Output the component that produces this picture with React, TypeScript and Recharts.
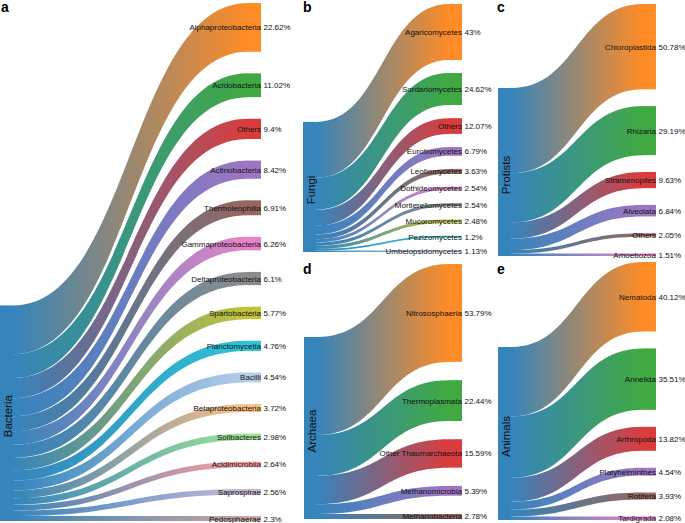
import React from 'react';
import { Sankey } from 'recharts';

const SOURCE_COLOR = '#1f77b4';
const PALETTE = [
  '#ff7f0e', '#2ca02c', '#d62728', '#9467bd', '#8c564b', '#e377c2', '#7f7f7f',
  '#bcbd22', '#17becf', '#aec7e8', '#ffbb78', '#98df8a', '#ff9896', '#c5b0d5', '#c49c94',
];

const bacteriaNames = [
  'Alphaproteobacteria', 'Acidobacteria', 'Others', 'Actinobacteria', 'Thermoleophilia',
  'Gammaproteobacteria', 'Deltaproteobacteria', 'Spartobacteria', 'Planctomycetia', 'Bacilli',
  'Betaproteobacteria', 'Solibacteres', 'Acidimicrobiia', 'Saprospirae', 'Pedosphaerae',
];
const bacteriaValues = [22.62, 11.02, 9.4, 8.42, 6.91, 6.26, 6.1, 5.77, 4.76, 4.54, 3.72, 2.98, 2.64, 2.56, 2.3];

const fungiNames = [
  'Agaricomycetes', 'Sordariomycetes', 'Others', 'Eurotiomycetes', 'Leotiomycetes',
  'Dothideomycetes', 'Mortierellomycetes', 'Mucoromycetes', 'Pezizomycetes', 'Umbelopsidomycetes',
];
const fungiValues = [43, 24.62, 12.07, 6.79, 3.63, 2.54, 2.54, 2.48, 1.2, 1.13];

const protistNames = ['Chloroplastida', 'Rhizaria', 'Stramenopiles', 'Alveolata', 'Others', 'Amoebozoa'];
const protistValues = [50.78, 29.19, 9.63, 6.84, 2.05, 1.51];

const archaeaNames = ['Nitrososphaeria', 'Thermoplasmata', 'Other Thaumarchaeota', 'Methanomicrobia', 'Methanobacteria'];
const archaeaValues = [53.79, 22.44, 15.59, 5.39, 2.78];

const animalNames = ['Nematoda', 'Annelida', 'Arthropoda', 'Platyhelminthes', 'Rotifera', 'Tardigrada'];
const animalValues = [40.12, 35.51, 13.82, 4.54, 3.93, 2.08];

const FONT = '"Liberation Sans", Arial, Helvetica, sans-serif';
const OPACITY = 0.9;

type PanelCfg = {
  key: string;
  letter: string;
  source: string;
  names: string[];
  values: number[];
  left: number;
  top: number;
  innerW: number;
  innerH: number;
  padding: number;
  letterX: number;
  letterY: number;
};

const panels: PanelCfg[] = [
  { key: 'a', letter: 'a', source: 'Bacteria', names: bacteriaNames, values: bacteriaValues, left: 0, top: 3, innerW: 261, innerH: 518, padding: 21.6, letterX: 1, letterY: 12 },
  { key: 'b', letter: 'b', source: 'Fungi', names: fungiNames, values: fungiValues, left: 303, top: 4, innerW: 159, innerH: 248, padding: 13.1, letterX: 303, letterY: 12 },
  { key: 'c', letter: 'c', source: 'Protists', names: protistNames, values: protistValues, left: 498, top: 4, innerW: 158, innerH: 252, padding: 16.8, letterX: 497, letterY: 12 },
  { key: 'd', letter: 'd', source: 'Archaea', names: archaeaNames, values: archaeaValues, left: 304, top: 264, innerW: 158, innerH: 255, padding: 18.25, letterX: 303, letterY: 274 },
  { key: 'e', letter: 'e', source: 'Animals', names: animalNames, values: animalValues, left: 498, top: 262, innerW: 158, innerH: 258, padding: 17, letterX: 497, letterY: 274 },
];

const RIGHT = 30;
const BOTTOM = 8;

function buildData(p: PanelCfg) {
  const nodes = [{ name: p.source }, ...p.names.map((n) => ({ name: n }))];
  const links = p.values.map((v, i) => ({ source: 0, target: i + 1, value: v }));
  return { nodes, links };
}

const makeNode = (p: PanelCfg) => (props: any) => {
  const { x, y, width, height, index, payload } = props;
  if (index === 0) {
    const ny = p.innerH - height;
    return (
      <g>
        <rect x={x} y={ny} width={width} height={height} fill={SOURCE_COLOR} fillOpacity={OPACITY} />
        <text
          transform={`translate(${x + 12},${ny + height / 2 + 3}) rotate(-90)`}
          textAnchor="middle"
          fontSize={11.5}
          fontFamily={FONT}
          fill="#111"
        >
          {payload.name}
        </text>
      </g>
    );
  }
  const color = PALETTE[index - 1];
  const val = p.values[index - 1];
  const cy = y + height / 2 + 3;
  return (
    <g>
      <rect x={x} y={y} width={width} height={height} fill={color} fillOpacity={OPACITY} />
      <text x={x + width} y={cy} textAnchor="end" fontSize={8} fontFamily={FONT} fill="#111">
        {payload.name}
      </text>
      <text x={x + width + 2.5} y={cy} textAnchor="start" fontSize={8} fontFamily={FONT} fill="#111">
        {`${val}%`}
      </text>
    </g>
  );
};

const makeLink = (p: PanelCfg) => (props: any) => {
  const { sourceX, targetX, sourceY, targetY, sourceControlX, targetControlX, linkWidth, index, payload } = props;
  const total = p.values.reduce((a, b) => a + b, 0);
  const src = payload && payload.source;
  const srcH = src && typeof src === 'object' && typeof src.dy === 'number' ? src.dy : (total * linkWidth) / payload.value;
  const srcY = src && typeof src === 'object' && typeof src.y === 'number' ? src.y : 0;
  const shift = p.innerH - (srcY + srcH);
  const sy = sourceY + shift;
  const h = linkWidth / 2;
  const d = `M${sourceX},${sy - h} C${sourceControlX},${sy - h} ${targetControlX},${targetY - h} ${targetX},${targetY - h} L${targetX},${targetY + h} C${targetControlX},${targetY + h} ${sourceControlX},${sy + h} ${sourceX},${sy + h} Z`;
  const id = `grad-${p.key}-${index}`;
  const color = PALETTE[index];
  return (
    <g>
      <defs>
        <linearGradient id={id} x1="0" y1="0" x2="1" y2="0">
          <stop offset="0%" stopColor={SOURCE_COLOR} />
          <stop offset="100%" stopColor={color} />
        </linearGradient>
      </defs>
      <path d={d} fill={`url(#${id})`} fillOpacity={OPACITY} stroke="none" />
    </g>
  );
};

function Panel({ p }: { p: PanelCfg }) {
  const data = buildData(p);
  return (
    <div style={{ position: 'absolute', left: p.left, top: p.top }}>
      <Sankey
        width={p.innerW + RIGHT}
        height={p.innerH + BOTTOM}
        data={data}
        margin={{ top: 0, left: 0, right: RIGHT, bottom: BOTTOM }}
        nodeWidth={13}
        nodePadding={p.padding}
        iterations={0}
        linkCurvature={0.5}
        node={makeNode(p)}
        link={makeLink(p)}
        isAnimationActive={false}
      />
    </div>
  );
}

export default function App() {
  return (
    <div style={{ position: 'absolute', left: 0, top: 0, width: 685, height: 523, background: '#fff', overflow: 'hidden' }}>
      {panels.map((p) => (
        <Panel key={p.key} p={p} />
      ))}
      <svg width={685} height={523} style={{ position: 'absolute', left: 0, top: 0, pointerEvents: 'none' }}>
        {panels.map((p) => (
          <text key={p.key} x={p.letterX} y={p.letterY} fontSize={14} fontWeight="bold" fontFamily={FONT} fill="#000">
            {p.letter}
          </text>
        ))}
      </svg>
    </div>
  );
}
